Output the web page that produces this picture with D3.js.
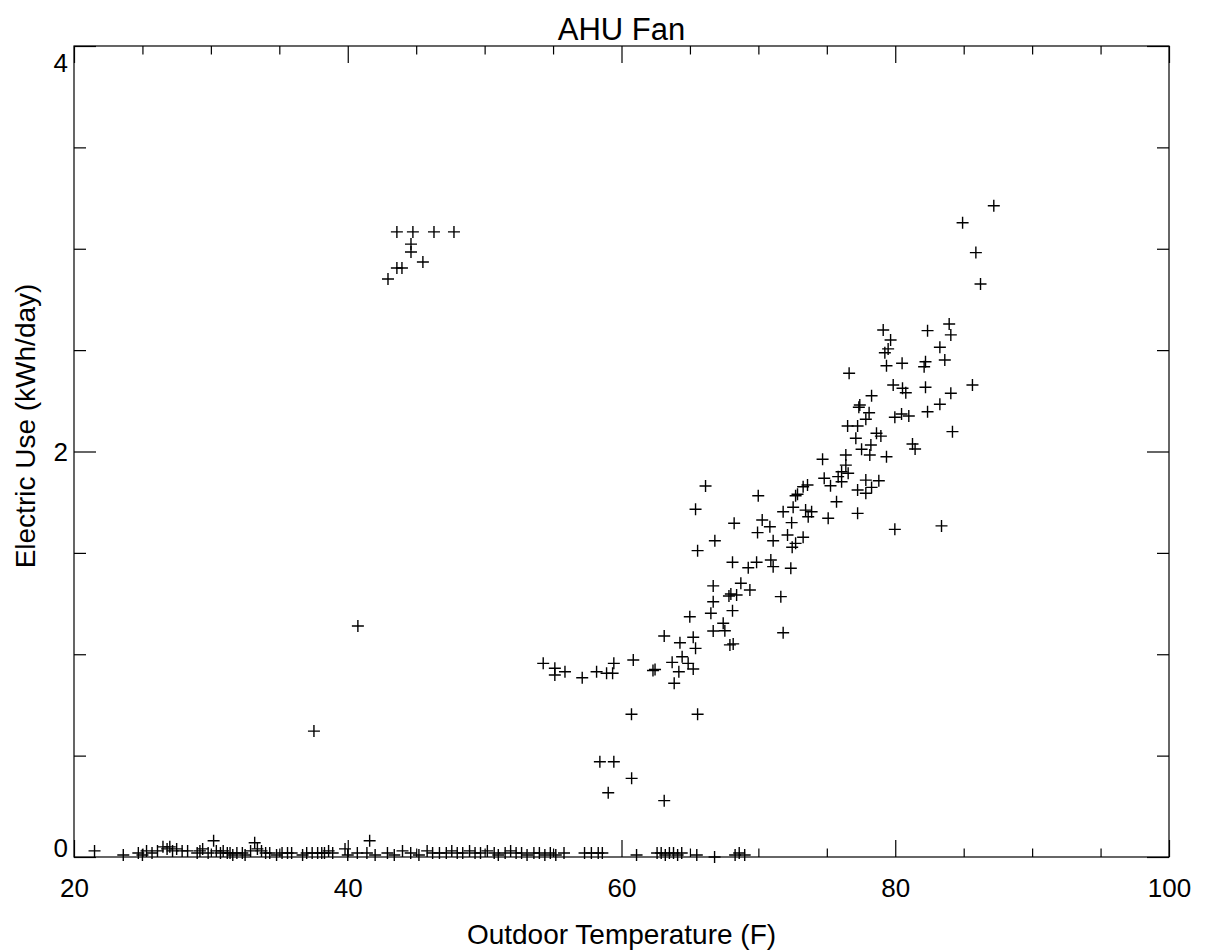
<!DOCTYPE html>
<html>
<head>
<meta charset="utf-8">
<script src="https://cdn.jsdelivr.net/npm/d3@7"></script>
<style>
  body { margin: 0; background: #fff; }
  #chart { width: 1207px; height: 951px; }
  text { font-family: "Liberation Sans", Arial, sans-serif; fill: #000; }
</style>
</head>
<body>
<div id="chart"></div>
<script>
// days with the fan (almost) off: [outdoor temp F, kWh/day]
var offDays = [
  [21.5,0.03],[23.6,0.01],[24.7,0.02],[25.0,0.01],[25.3,0.03],[25.7,0.02],[26.1,0.03],[26.5,0.05],
  [26.8,0.04],[27.0,0.05],[27.2,0.03],[27.5,0.04],[27.9,0.03],[28.3,0.03],[29.0,0.02],[29.2,0.03],
  [29.4,0.04],[29.8,0.02],[30.2,0.08],[30.4,0.03],[30.7,0.02],[30.9,0.03],[31.2,0.02],[31.4,0.02],
  [31.6,0.01],[31.9,0.02],[32.3,0.02],[32.5,0.01],[32.9,0.03],[33.2,0.07],[33.4,0.04],[33.7,0.03],
  [34.0,0.02],[34.3,0.02],[34.8,0.01],[35.2,0.02],[35.6,0.02],[35.9,0.02],[36.7,0.01],[37.0,0.02],
  [37.4,0.02],[37.8,0.02],[38.1,0.02],[38.3,0.02],[38.6,0.03],[38.9,0.02],[39.8,0.04],[40.0,0.01],
  [40.7,0.02],[41.4,0.02],[41.6,0.08],[42.0,0.01],[42.9,0.02],[43.4,0.01],[44.0,0.03],[44.6,0.02],
  [45.2,0.01],[45.8,0.03],[46.2,0.02],[46.7,0.02],[47.2,0.02],[47.6,0.03],[48.0,0.02],[48.4,0.02],
  [48.9,0.03],[49.3,0.02],[49.7,0.02],[50.2,0.03],[50.7,0.02],[51.0,0.01],[51.5,0.02],[51.9,0.03],
  [52.3,0.02],[52.7,0.02],[53.1,0.01],[53.6,0.02],[54.0,0.02],[54.4,0.01],[54.8,0.02],[55.2,0.01],
  [55.8,0.02],[57.3,0.02],[57.8,0.02],[58.3,0.02],[58.6,0.02],[61.1,0.01],[62.6,0.02],[62.9,0.02],
  [63.2,0.01],[63.5,0.02],[63.8,0.02],[64.1,0.01],[64.4,0.02],[65.5,0.01],[66.8,0.00],[68.3,0.01],
  [68.6,0.02],[69.0,0.01]
];

// cold-weather cluster near 3 kWh/day and two stragglers
var coldDays = [
  [43.59,3.083],[44.76,3.083],[46.30,3.083],[47.76,3.083],[44.62,3.023],[44.62,2.984],
  [45.49,2.935],[43.59,2.905],[43.96,2.905],[42.94,2.851],[40.74,1.139],[37.53,0.621]
];

// warm-weather cloud
var warmDays = [
  [54.28,0.955],[55.13,0.931],[55.13,0.898],[55.87,0.914],[57.13,0.884],[58.18,0.914],[58.91,0.906],
  [59.35,0.906],[59.44,0.955],[60.86,0.972],[62.30,0.920],[62.45,0.925],[63.12,1.090],[64.27,1.057],
  [65.24,1.084],[65.41,1.029],[63.70,0.960],[64.43,0.988],[64.87,0.955],[64.19,0.914],[65.24,0.927],
  [63.85,0.857],[60.73,0.704],[65.56,0.704],[58.42,0.470],[59.44,0.470],[60.74,0.388],[59.03,0.317],
  [63.12,0.278],
  [66.14,1.830],[65.41,1.715],[69.99,1.782],[72.72,1.782],[72.54,1.725],[71.81,1.703],[70.28,1.662],
  [70.84,1.629],[72.43,1.649],[68.23,1.646],[69.94,1.600],[71.08,1.560],[72.13,1.588],[72.72,1.547],
  [72.47,1.528],[66.82,1.560],[65.56,1.511],[68.11,1.454],[69.26,1.427],[69.87,1.454],[70.91,1.465],
  [71.08,1.432],[72.37,1.424],[66.70,1.337],[68.72,1.350],[69.38,1.317],[67.99,1.297],[67.85,1.287],
  [68.41,1.292],[66.70,1.259],[68.11,1.215],[66.53,1.202],[64.99,1.185],[71.64,1.284],[67.43,1.153],
  [67.55,1.116],[66.70,1.115],[71.81,1.106],[67.92,1.046],[68.16,1.051],
  [79.12,2.599],[79.66,2.550],[79.48,2.506],[79.24,2.487],[79.36,2.423],[76.63,2.386],[80.50,2.435],
  [82.21,2.443],[82.11,2.418],[82.36,2.596],[83.94,2.629],[84.06,2.575],[83.26,2.514],[83.62,2.451],
  [85.64,2.328],[84.06,2.287],[83.26,2.233],[82.36,2.196],[82.21,2.317],[79.85,2.328],[80.53,2.312],
  [80.77,2.290],[78.27,2.275],[77.41,2.229],[77.34,2.218],[78.09,2.191],[80.46,2.185],[79.97,2.169],
  [80.99,2.175],[77.85,2.159],[76.52,2.126],[77.25,2.126],[78.63,2.090],[78.95,2.076],[77.12,2.065],
  [77.54,2.011],[78.22,2.032],[78.14,1.983],[79.36,1.974],[76.39,1.983],[81.26,2.037],[81.45,2.012],
  [84.18,2.098],[74.69,1.962],[76.39,1.933],[76.08,1.900],[76.56,1.893],[75.83,1.876],[74.81,1.868],
  [75.27,1.831],[76.08,1.851],[77.85,1.859],[78.80,1.856],[77.25,1.810],[77.85,1.794],[78.27,1.823],
  [73.27,1.826],[73.59,1.835],[72.86,1.789],[75.71,1.752],[73.45,1.711],[73.89,1.703],[73.64,1.678],
  [75.10,1.671],[77.25,1.695],[79.97,1.616],[83.38,1.633],[73.27,1.577],
  [87.20,3.212],[84.92,3.128],[85.89,2.981],[86.23,2.826]
];

var xMajor = [20, 40, 60, 80, 100];
var xMinor = [25, 30, 35, 45, 50, 55, 65, 70, 75, 85, 90, 95];
var yMajor = [0, 2, 4];
var yMinor = [0.5, 1, 1.5, 2.5, 3, 3.5];

var width = 1207, height = 951;
var margin = {top: 46, right: 38, bottom: 94, left: 74};

var svg = d3.select("#chart").append("svg")
  .attr("width", width)
  .attr("height", height);

var x = d3.scaleLinear().domain([20, 100]).range([margin.left, width - margin.right]);
var y = d3.scaleLinear().domain([0, 4]).range([height - margin.bottom, margin.top]);

var points = offDays.concat(coldDays, warmDays);

svg.selectAll("path.pt")
  .data(points)
  .enter()
  .append("path")
    .attr("class", "pt")
    .attr("transform", function(d) { return "translate(" + x(d[0]) + "," + y(d[1]) + ")"; })
    .attr("d", "M-6,0H6M0,-6V6")
    .attr("stroke", "#000")
    .attr("stroke-width", 1.4)
    .attr("fill", "none");

// frame
svg.append("rect")
  .attr("x", margin.left)
  .attr("y", margin.top)
  .attr("width", width - margin.left - margin.right)
  .attr("height", height - margin.top - margin.bottom)
  .attr("fill", "none")
  .attr("stroke", "#000")
  .attr("stroke-width", 1.2);

function ticks(axis, pos, vals, size) {
  var g = svg.append("g")
    .attr("transform", pos)
    .call(axis.tickValues(vals).tickSize(-size).tickFormat(""));
  g.select(".domain").remove();
  g.selectAll("line").attr("stroke", "#000").attr("stroke-width", 1.2);
}

var atBottom = "translate(0," + (height - margin.bottom) + ")";
var atTop = "translate(0," + margin.top + ")";
var atLeft = "translate(" + margin.left + ",0)";
var atRight = "translate(" + (width - margin.right) + ",0)";

ticks(d3.axisBottom(x), atBottom, xMajor, 17);
ticks(d3.axisBottom(x), atBottom, xMinor, 8.5);
ticks(d3.axisTop(x), atTop, xMajor, 17);
ticks(d3.axisTop(x), atTop, xMinor, 8.5);
ticks(d3.axisLeft(y), atLeft, yMajor, 22);
ticks(d3.axisLeft(y), atLeft, yMinor, 12);
ticks(d3.axisRight(y), atRight, yMajor, 22);
ticks(d3.axisRight(y), atRight, yMinor, 12);

// tick labels
var xLab = svg.append("g")
  .attr("transform", atBottom)
  .call(d3.axisBottom(x).tickValues(xMajor).tickSize(0).tickPadding(22));
xLab.select(".domain").remove();
xLab.selectAll("text").style("font-size", "26px").style("font-family", "Liberation Sans, Arial, sans-serif");

var yLab = svg.append("g")
  .attr("transform", atLeft)
  .call(d3.axisLeft(y).tickValues(yMajor).tickFormat(d3.format("d")).tickSize(0).tickPadding(6));
yLab.select(".domain").remove();
yLab.selectAll("text")
  .style("font-size", "26px")
  .style("font-family", "Liberation Sans, Arial, sans-serif")
  .attr("dy", function(d) { return d === 0 ? "-0.02em" : (d === 4 ? "0.98em" : "0.36em"); });

svg.append("text")
  .attr("x", (margin.left + width - margin.right) / 2)
  .attr("y", 40)
  .attr("text-anchor", "middle")
  .style("font-size", "31px")
  .text("AHU Fan");

svg.append("text")
  .attr("x", (margin.left + width - margin.right) / 2)
  .attr("y", 944)
  .attr("text-anchor", "middle")
  .style("font-size", "28px")
  .text("Outdoor Temperature (F)");

svg.append("text")
  .attr("transform", "rotate(-90)")
  .attr("x", -426)
  .attr("y", 35)
  .attr("text-anchor", "middle")
  .style("font-size", "28px")
  .text("Electric Use (kWh/day)");
</script>
</body>
</html>
